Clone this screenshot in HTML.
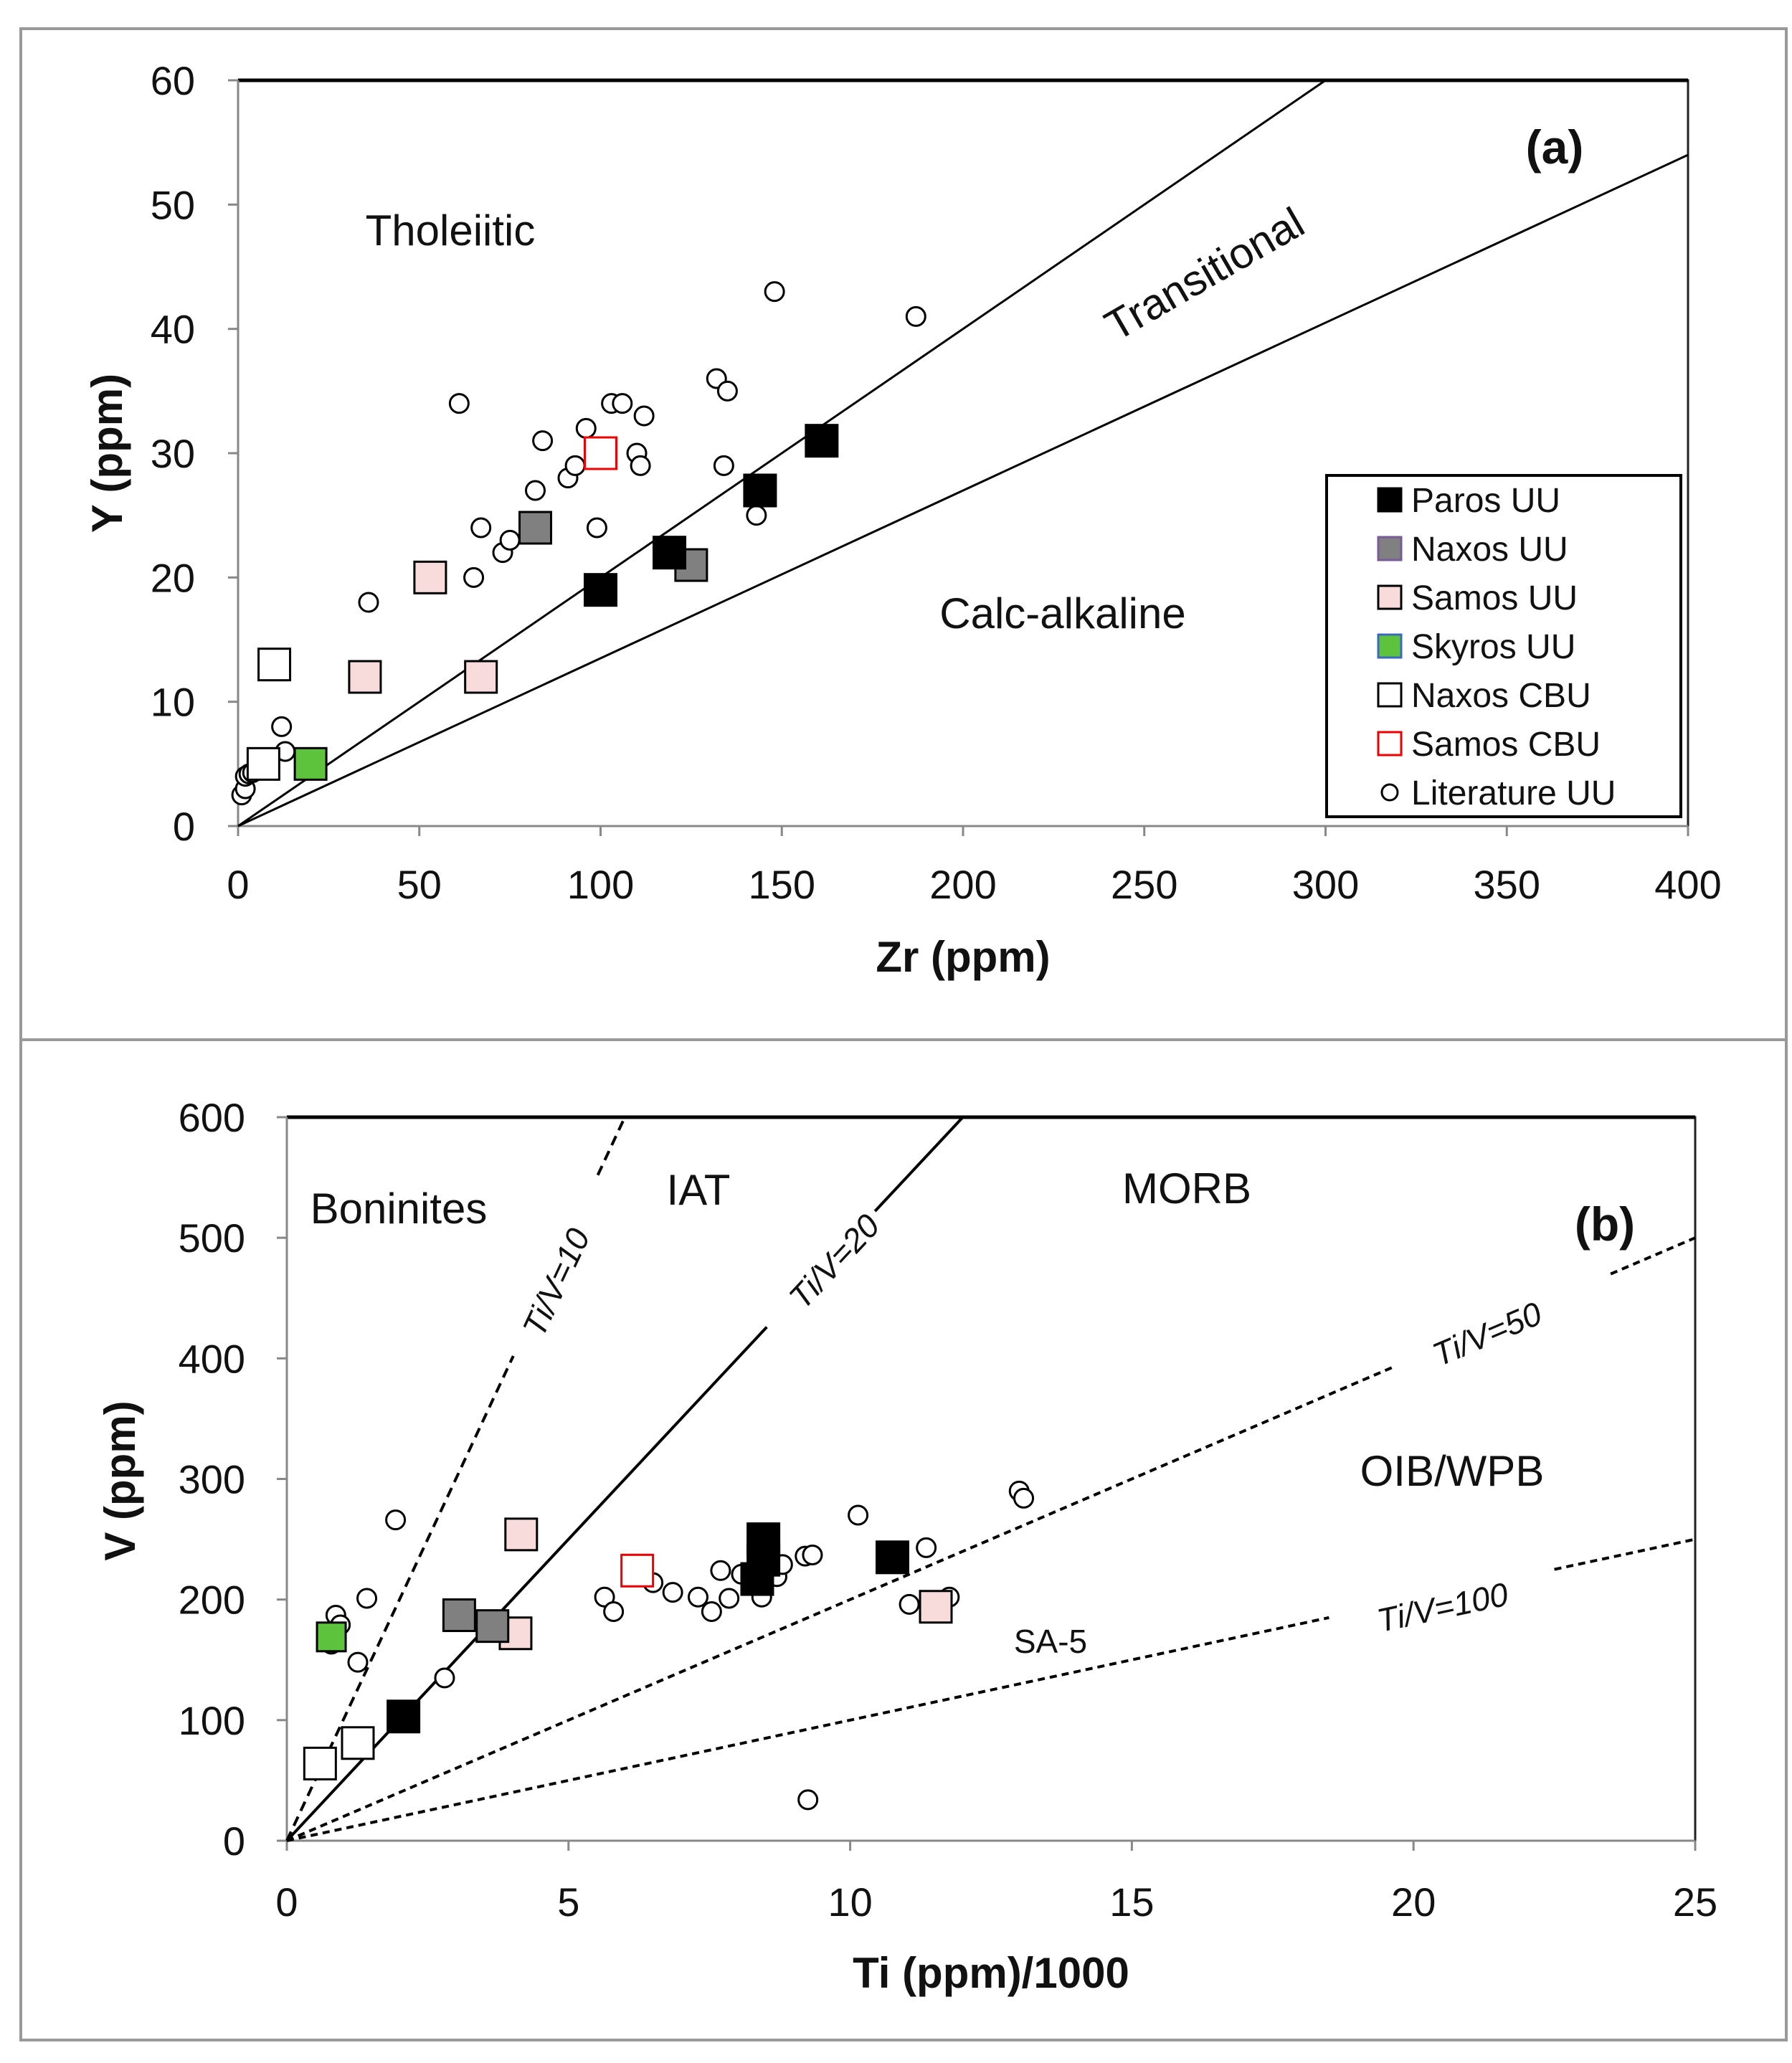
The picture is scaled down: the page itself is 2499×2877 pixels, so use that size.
<!DOCTYPE html>
<html><head><meta charset="utf-8"><style>
html,body{margin:0;padding:0;background:#fff}
svg{display:block;font-family:"Liberation Sans",Arial,sans-serif}
</style></head><body>
<svg id="fig" width="2499" height="2877" viewBox="0 0 2499 2877" xmlns="http://www.w3.org/2000/svg">
<rect x="29" y="40" width="2462" height="1410" fill="none" stroke="#999" stroke-width="4"/>
<rect x="29" y="1450" width="2462" height="1395" fill="none" stroke="#999" stroke-width="4"/>
<g id="pa"></g>
<g id="pb"></g>
</svg>
<script>
// ---- Panel (a) data: Zr vs Y ----
const aXTicks=[0,50,100,150,200,250,300,350,400];
const aYTicks=[0,10,20,30,40,50,60];
const litA_Zr=[1,2,2,3,4,12,13,36,61,65,67,73,75,82,84,91,93,96,99,103,106,110,111,112,132,134,135,143,148,187];
const litA_Y=[2.5,3,4,4.2,4.3,8,6,18,34,20,24,22,23,27,31,28,29,32,24,34,34,30,29,33,36,29,35,25,43,41];
const parosA_Zr=[100,119,144,161], parosA_Y=[19,22,27,31];
const naxosUUA_Zr=[82,125], naxosUUA_Y=[24,21];
const samosUUA_Zr=[35,53,67], samosUUA_Y=[12,20,12];
const skyrosA_Zr=[20], skyrosA_Y=[5];
const naxosCBUA_Zr=[10,7], naxosCBUA_Y=[13,5];
const samosCBUA_Zr=[100], samosCBUA_Y=[30];
const aLineEnds=[[300,60],[400,54]];
// ---- Panel (b) data: Ti/1000 vs V ----
const bXTicks=[0,5,10,15,20,25];
const bYTicks=[0,100,200,300,400,500,600];
const litB_Ti=[1.93,1.42,0.87,0.95,0.79,1.26,2.8,5.64,5.8,6.5,6.85,7.3,7.54,7.7,7.85,8.07,8.43,8.7,8.8,9.2,9.33,9.25,10.14,11.35,11.05,11.76,13.0,13.08];
const litB_V=[266,201,187,179,163,148,135,202,190,214,206,202,190,224,201,221,202,219,229,236,237,34,270,243,196,202,290,284];
const parosB_Ti=[2.07,8.46,8.46,8.35,10.75], parosB_V=[103,250,233,217,235];
const naxosUUB_Ti=[3.06,3.65], naxosUUB_V=[187,178];
const samosUUB_Ti=[4.16,4.06,11.52], samosUUB_V=[254,172,194];
const skyrosB_Ti=[0.79], skyrosB_V=[169];
const naxosCBUB_Ti=[0.59,1.26], naxosCBUB_V=[64,81];
const samosCBUB_Ti=[6.22], samosCBUB_V=[224];
const tiVRatios=[10,20,50,100];

const NS="http://www.w3.org/2000/svg";
function mk(parent,tag,attrs,text){const e=document.createElementNS(NS,tag);for(const k in attrs)e.setAttribute(k,attrs[k]);if(text!==undefined)e.textContent=text;parent.appendChild(e);return e;}

const A={l:332,r:2354,t:112,b:1152,x0:0,x1:400,y0:0,y1:60};
const ax=v=>A.l+(v-A.x0)/(A.x1-A.x0)*(A.r-A.l);
const ay=v=>A.b-(v-A.y0)/(A.y1-A.y0)*(A.b-A.t);
const B={l:400,r:2364,t:1558,b:2567,x0:0,x1:25,y0:0,y1:600};
const bx=v=>B.l+(v-B.x0)/(B.x1-B.x0)*(B.r-B.l);
const by=v=>B.b-(v-B.y0)/(B.y1-B.y0)*(B.b-B.t);

function axes(g,P,sx,sy,xt,yt,xt_base,ylab_right,xtitle,ytitle,xtY,ytX,ytY){
  const e=mk(g,'rect',{x:P.l,y:P.t,width:P.r-P.l,height:P.b-P.t,fill:'none',stroke:'#222','stroke-width':3});
  
  
  mk(g,'line',{x1:P.l,y1:P.t,x2:P.r,y2:P.t,stroke:'#000','stroke-width':5});
  mk(g,'line',{x1:P.l,y1:P.b,x2:P.r,y2:P.b,stroke:'#888','stroke-width':3});
  mk(g,'line',{x1:P.l,y1:P.t,x2:P.l,y2:P.b,stroke:'#888','stroke-width':3});
  xt.forEach(v=>{mk(g,'line',{x1:sx(v),y1:P.b,x2:sx(v),y2:P.b+14,stroke:'#888','stroke-width':3});
    const t=mk(g,'text',{x:sx(v),y:xt_base,'font-size':56,'text-anchor':'middle',fill:'#111'},v);
    
    });
  yt.forEach(v=>{mk(g,'line',{x1:P.l-14,y1:sy(v),x2:P.l,y2:sy(v),stroke:'#888','stroke-width':3});
    const t=mk(g,'text',{x:ylab_right,y:sy(v)+20,'font-size':56,'text-anchor':'end',fill:'#111'},v);
    
    });
  const xtl=mk(g,'text',{x:(P.l+P.r)/2,y:xtY,'font-size':60,'font-weight':'bold','text-anchor':'middle',fill:'#111'},xtitle);
  
  
  const ytl=mk(g,'text',{x:ytX,y:ytY,'font-size':60,'font-weight':'bold','text-anchor':'middle',fill:'#111',transform:`rotate(-90 ${ytX} ${ytY})`},ytitle);
  
  
}
function sq(g,x,y,s,fill,stroke,name){const e=mk(g,'rect',{x:x-s/2,y:y-s/2,width:s,height:s,fill:fill,stroke:stroke,'stroke-width':3});
  
  }
function circ(g,x,y,name){const e=mk(g,'circle',{cx:x,cy:y,r:13,fill:'#fff',stroke:'#000','stroke-width':3});
  
  }
function label(g,x,y,txt,size,name,opts){opts=opts||{};const a={x:x,y:y,'font-size':size,'text-anchor':'middle',fill:'#111'};
  if(opts.bold)a['font-weight']='bold';if(opts.italic)a['font-style']='italic';if(opts.rot!==undefined)a.transform=`rotate(${opts.rot} ${x} ${y})`;
  const e=mk(g,'text',a,txt);
  
  }

// ---------- Panel A ----------
const ga=document.getElementById('pa');
axes(ga,A,ax,ay,aXTicks,aYTicks,1253,272,'Zr (ppm)','Y (ppm)',1355,170,632);
aLineEnds.forEach(p=>{const e=mk(ga,'line',{x1:ax(0),y1:ay(0),x2:ax(p[0]),y2:ay(p[1]),stroke:'#000','stroke-width':3});
  
  });
label(ga,628,342,'Tholeiitic',60,'region-tholeiitic');
label(ga,1690,400,'Transitional',60,'region-transitional',{rot:-30});
label(ga,1482,876,'Calc-alkaline',60,'region-calc-alkaline');
label(ga,2168,228,'(a)',66,'panel-a-label',{bold:true});
litA_Zr.forEach((v,i)=>circ(ga,ax(v),ay(litA_Y[i]),'literature-uu-point'));
naxosCBUA_Zr.forEach((v,i)=>sq(ga,ax(v),ay(naxosCBUA_Y[i]),44,'#fff','#000','naxos-cbu-point'));
samosUUA_Zr.forEach((v,i)=>sq(ga,ax(v),ay(samosUUA_Y[i]),44,'#f8dcdc','#000','samos-uu-point'));
naxosUUA_Zr.forEach((v,i)=>sq(ga,ax(v),ay(naxosUUA_Y[i]),44,'#808080','#000','naxos-uu-point'));
skyrosA_Zr.forEach((v,i)=>sq(ga,ax(v),ay(skyrosA_Y[i]),44,'#5dc33c','#000','skyros-uu-point'));
samosCBUA_Zr.forEach((v,i)=>sq(ga,ax(v),ay(samosCBUA_Y[i]),44,'#fff','#e00','samos-cbu-point'));
parosA_Zr.forEach((v,i)=>sq(ga,ax(v),ay(parosA_Y[i]),44,'#000','#000','paros-uu-point'));
const lg=mk(ga,'g',{});


mk(lg,'rect',{x:1850,y:663,width:494,height:476,fill:'#fff',stroke:'#000','stroke-width':4});
const legItems=[['Paros UU','#000','#000'],['Naxos UU','#808080','#7a5a9a'],['Samos UU','#f8dcdc','#000'],['Skyros UU','#5dc33c','#3a6ac0'],['Naxos CBU','#fff','#000'],['Samos CBU','#fff','#e00'],['Literature UU','c','#000']];
legItems.forEach((it,i)=>{const y=697+i*68;
  const eg=mk(lg,'g',{});
  
  
  if(it[1]==='c')mk(eg,'circle',{cx:1938,cy:y,r:11,fill:'#fff',stroke:'#000','stroke-width':3});
  else mk(eg,'rect',{x:1922,y:y-16,width:32,height:32,fill:it[1],stroke:it[2],'stroke-width':3});
  mk(eg,'text',{x:1968,y:y+17,'font-size':48,fill:'#111'},it[0]);});

// ---------- Panel B ----------
const gb=document.getElementById('pb');
axes(gb,B,bx,by,bXTicks,bYTicks,2672,342,'Ti (ppm)/1000','V (ppm)',2772,188,2065);
const segs={10:[[0,0.67],[0.92,1]],20:[[0,0.71],[0.87,1]],50:[[0,0.785],[0.94,1]],100:[[0,0.74],[0.9,1]]};
const dashes={10:'14 9',20:'none',50:'10 7',100:'10 7'};
tiVRatios.forEach(r=>{const tiMax=Math.min(25,600*r/1000);
  segs[r].forEach(s=>{const t0=tiMax*s[0],t1=tiMax*s[1];
    const e=mk(gb,'line',{x1:bx(t0),y1:by(t0*1000/r),x2:bx(t1),y2:by(t1*1000/r),stroke:'#000','stroke-width':4,'stroke-dasharray':dashes[r]});
    
    });});
label(gb,790,1795,'Ti/V=10',46,'ti-v-10-label',{italic:true,rot:-65});
label(gb,1175,1770,'Ti/V=20',46,'ti-v-20-label',{italic:true,rot:-47});
label(gb,2080,1875,'Ti/V=50',46,'ti-v-50-label',{italic:true,rot:-23});
label(gb,2015,2257,'Ti/V=100',46,'ti-v-100-label',{italic:true,rot:-12});
label(gb,556,1706,'Boninites',60,'region-boninites');
label(gb,974,1680,'IAT',60,'region-iat');
label(gb,1655,1678,'MORB',60,'region-morb');
label(gb,2238,1730,'(b)',66,'panel-b-label',{bold:true});
label(gb,2025,2072,'OIB/WPB',60,'region-oib-wpb');
label(gb,1465,2305,'SA-5',46,'sa-5-label');
litB_Ti.forEach((v,i)=>circ(gb,bx(v),by(litB_V[i]),'literature-uu-point'));
naxosCBUB_Ti.forEach((v,i)=>sq(gb,bx(v),by(naxosCBUB_V[i]),44,'#fff','#000','naxos-cbu-point'));
samosUUB_Ti.forEach((v,i)=>sq(gb,bx(v),by(samosUUB_V[i]),44,'#f8dcdc','#000','samos-uu-point'));
naxosUUB_Ti.forEach((v,i)=>sq(gb,bx(v),by(naxosUUB_V[i]),44,'#808080','#000','naxos-uu-point'));
skyrosB_Ti.forEach((v,i)=>sq(gb,bx(v),by(skyrosB_V[i]),40,'#5dc33c','#000','skyros-uu-point'));
samosCBUB_Ti.forEach((v,i)=>sq(gb,bx(v),by(samosCBUB_V[i]),44,'#fff','#e00','samos-cbu-point'));
parosB_Ti.forEach((v,i)=>sq(gb,bx(v),by(parosB_V[i]),44,'#000','#000','paros-uu-point'));
</script>
</body></html>
